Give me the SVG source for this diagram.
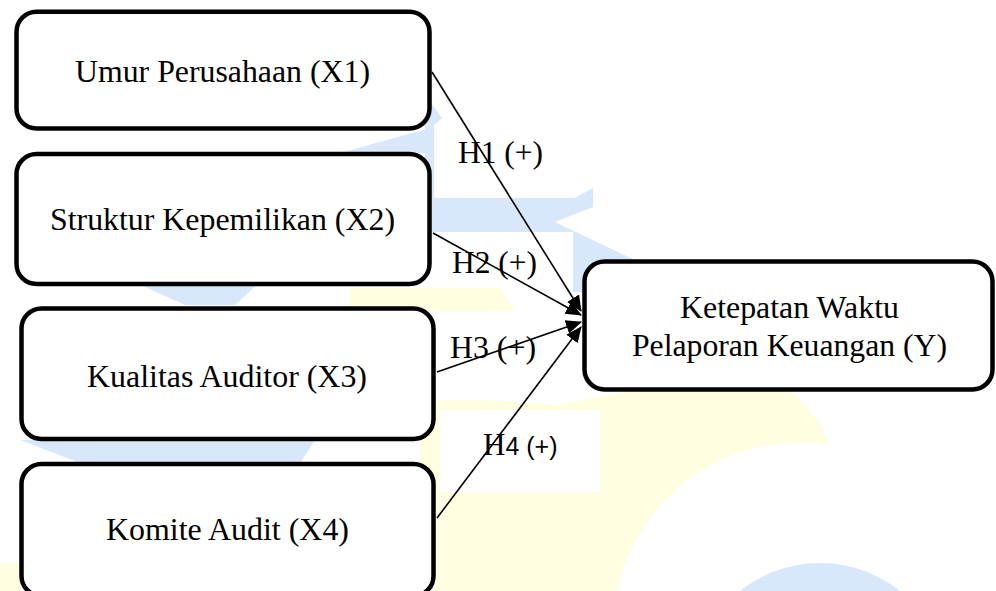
<svg xmlns="http://www.w3.org/2000/svg" width="996" height="591" viewBox="0 0 996 591">
  <style>
    .box { fill: #ffffff; stroke: #000000; stroke-width: 4.5; }
    .lbl { font-family: "Liberation Serif", "Times New Roman", serif; font-size: 31px; fill: #000000; }
    .edge { stroke: #000000; stroke-width: 1.6; fill: none; marker-end: url(#arrow); }
    .wmb { fill: #d9e7fb; }
    .wmy { fill: #fffee0; }
  </style>
  <defs>
    <marker id="arrow" markerUnits="userSpaceOnUse" markerWidth="18" markerHeight="16" refX="15" refY="8" orient="auto">
      <path d="M0,1 L16,8 L0,15 Z" fill="#000000"/>
    </marker>
  </defs>
  <rect width="996" height="591" fill="#ffffff"/>
  <g id="watermark">
    <path class="wmy" d="M420 591 L420 400 L490 400 L560 405 Q700 372 790 392 Q815 410 830 445 A187 187 0 0 0 617 591 Z"/>
    <path class="wmy" d="M350 288 L500 288 L515 311 L350 311 Z"/>
    <path class="wmy" d="M0 563 L20 563 L20 591 L0 591 Z"/>
    <circle class="wmb" cx="820" cy="691" r="128"/>
    <path class="wmb" d="M425 95 L442 118 L434 125 L434 198 L575 198 L593 188 L593 207 L555 222 L660 272 L660 292 L573 292 L573 232 L425 232 Z"/>
    <path class="wmb" d="M340 153 L430 128 L432 153 Z"/>
    <path class="wmb" d="M138 284 L258 284 L235 305 L185 305 Z"/>
    <path class="wmb" d="M20 440 L315 440 L300 463 L80 463 Z"/>
    <rect x="440" y="410" width="160" height="82" fill="#ffffff"/>
  </g>
  <g id="connectors">
    <line class="edge" x1="432" y1="72" x2="581" y2="311"/>
    <line class="edge" x1="433" y1="233" x2="581" y2="315"/>
    <line class="edge" x1="437" y1="372" x2="581" y2="322"/>
    <line class="edge" x1="437" y1="518" x2="581" y2="327"/>
    <text class="lbl" x="458" y="163" textLength="85" lengthAdjust="spacingAndGlyphs">H1 (+)</text>
    <text class="lbl" x="452" y="273" textLength="85" lengthAdjust="spacingAndGlyphs">H2 (+)</text>
    <text class="lbl" x="450" y="358" textLength="86" lengthAdjust="spacingAndGlyphs">H3 (+)</text>
    <text class="lbl" x="483" y="455" font-size="30">H<tspan font-family="Liberation Sans, Arial, sans-serif" font-size="25">4 (+)</tspan></text>
  </g>
  <g id="x1">
    <rect class="box" x="16.5" y="11.7" width="413" height="116.7" rx="20"/>
    <text class="lbl" x="75" y="82" textLength="295" lengthAdjust="spacingAndGlyphs">Umur Perusahaan (X1)</text>
  </g>
  <g id="x2">
    <rect class="box" x="16.5" y="154" width="413" height="130" rx="20"/>
    <text class="lbl" x="50" y="230" textLength="345" lengthAdjust="spacingAndGlyphs">Struktur Kepemilikan (X2)</text>
  </g>
  <g id="x3">
    <rect class="box" x="21.5" y="308.5" width="412" height="130.5" rx="20"/>
    <text class="lbl" x="87" y="387" textLength="280" lengthAdjust="spacingAndGlyphs">Kualitas Auditor (X3)</text>
  </g>
  <g id="x4">
    <rect class="box" x="21.5" y="464" width="412" height="132" rx="20"/>
    <text class="lbl" x="106" y="540" textLength="243" lengthAdjust="spacingAndGlyphs">Komite Audit (X4)</text>
  </g>
  <g id="y">
    <rect class="box" x="584.5" y="261.5" width="408" height="128" rx="20"/>
    <text class="lbl" x="680" y="318" textLength="219" lengthAdjust="spacingAndGlyphs">Ketepatan Waktu</text>
    <text class="lbl" x="632" y="356" textLength="315" lengthAdjust="spacingAndGlyphs">Pelaporan Keuangan (Y)</text>
  </g>
</svg>
